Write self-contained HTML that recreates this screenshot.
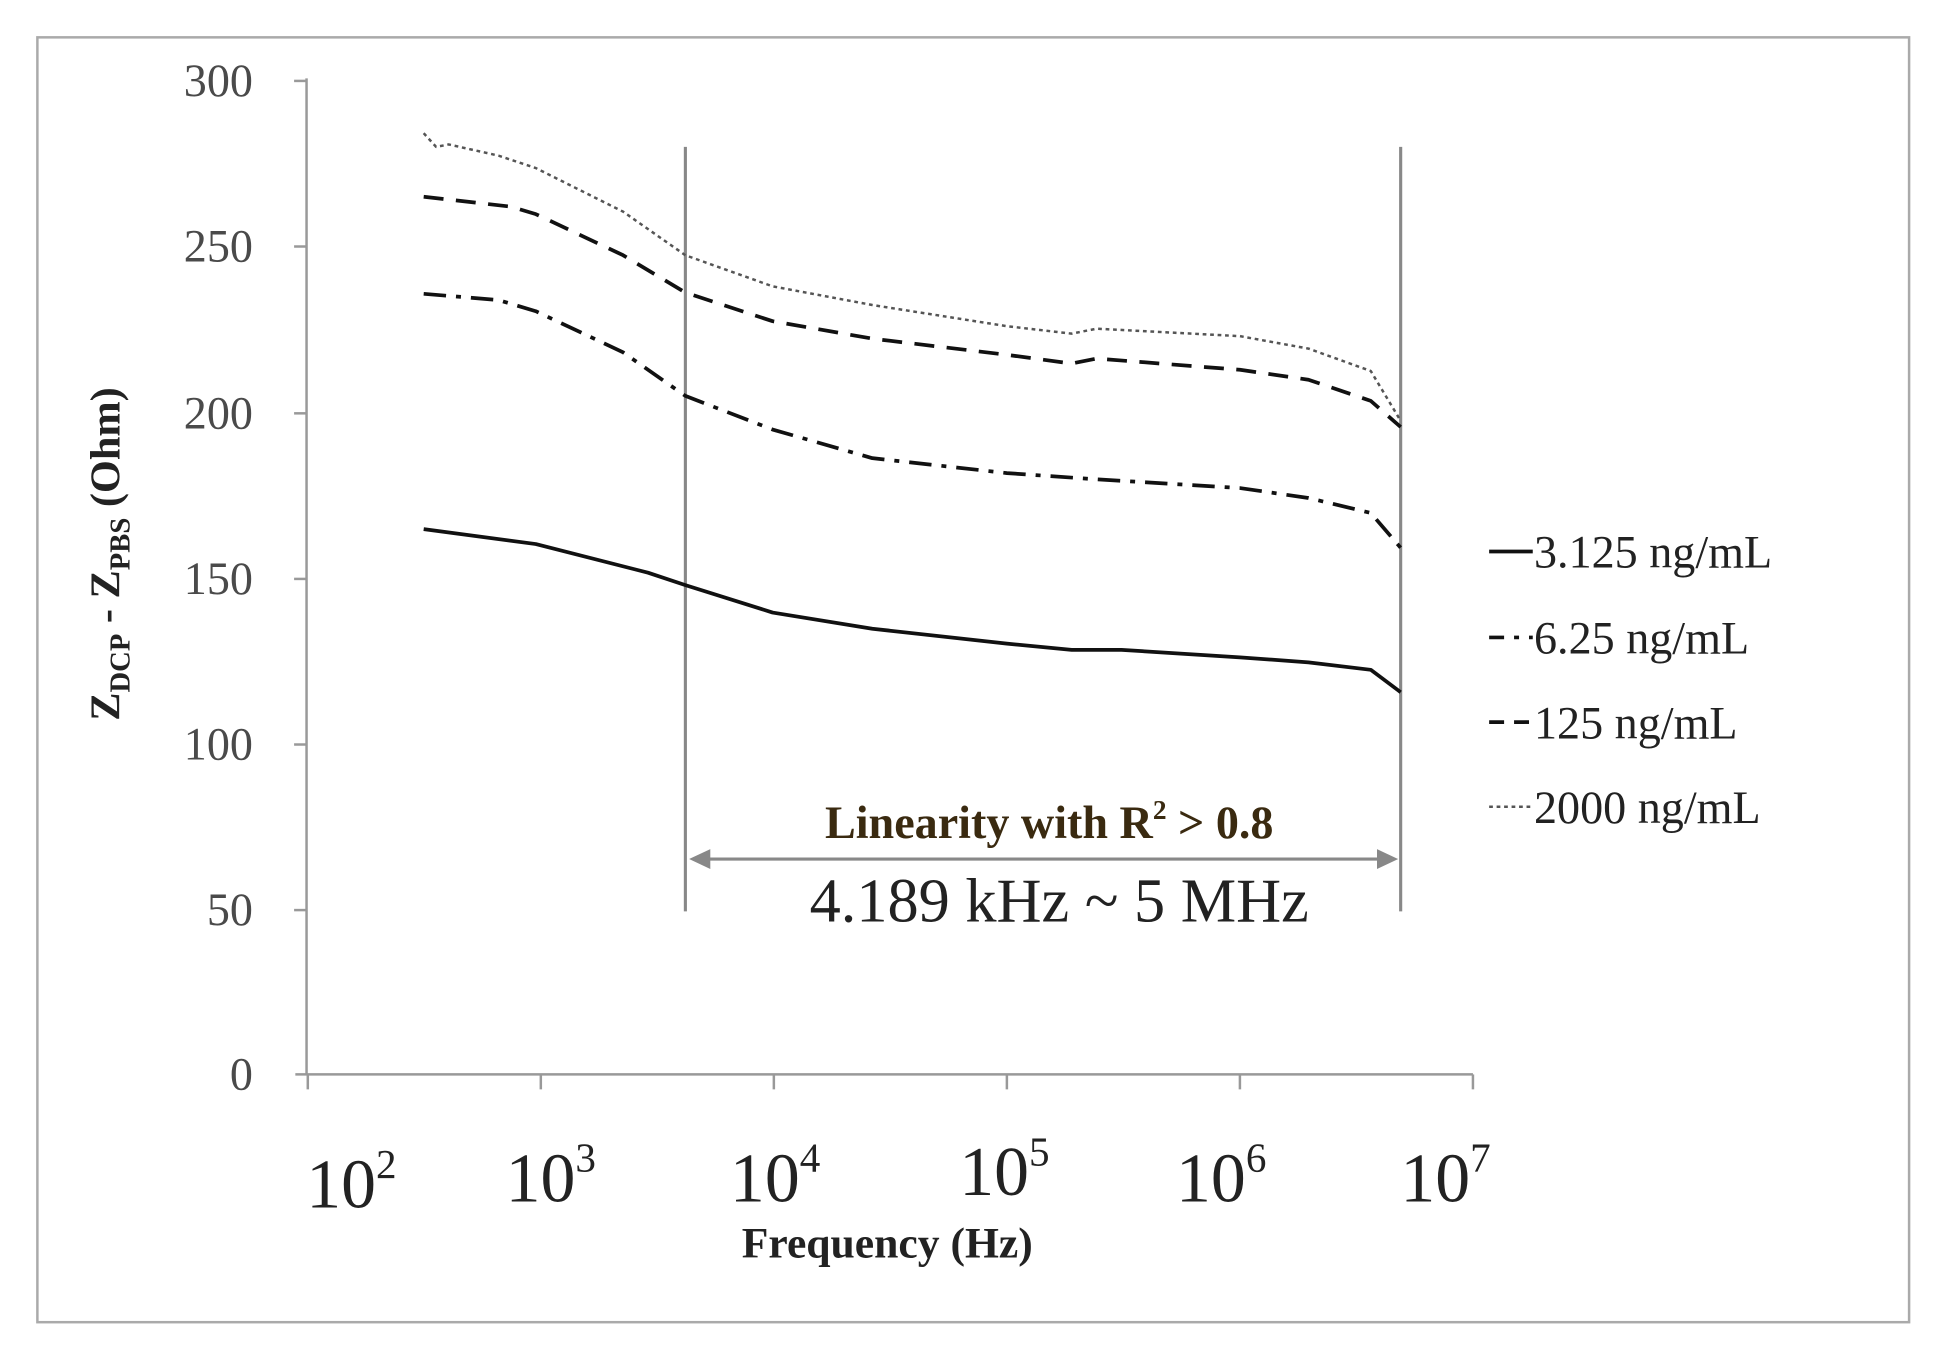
<!DOCTYPE html>
<html><head><meta charset="utf-8"><style>
html,body{margin:0;padding:0;background:#fff;}
svg{display:block;}
text{font-family:"Liberation Serif",serif;}
</style></head><body>
<svg width="1939" height="1367" viewBox="0 0 1556 1098" preserveAspectRatio="none" xmlns="http://www.w3.org/2000/svg">
<rect x="0" y="0" width="1556" height="1098" fill="#fff"/>
<rect x="30" y="30" width="1502" height="1032" fill="none" stroke="#aaa" stroke-width="2"/>
<g stroke="#999" stroke-width="2" fill="none">
<line x1="246" y1="63" x2="246" y2="863"/>
<line x1="237" y1="863" x2="1182" y2="863"/>
<line x1="236" y1="65" x2="246" y2="65"/>
<line x1="236" y1="198" x2="246" y2="198"/>
<line x1="236" y1="332" x2="246" y2="332"/>
<line x1="236" y1="465" x2="246" y2="465"/>
<line x1="236" y1="598" x2="246" y2="598"/>
<line x1="236" y1="731" x2="246" y2="731"/>
<line x1="247" y1="863" x2="247" y2="875"/>
<line x1="434" y1="863" x2="434" y2="875"/>
<line x1="621" y1="863" x2="621" y2="875"/>
<line x1="808" y1="863" x2="808" y2="875"/>
<line x1="995" y1="863" x2="995" y2="875"/>
<line x1="1182" y1="863" x2="1182" y2="875"/>
</g>
<g font-size="37" fill="#4a4a4a" text-anchor="end">
<text x="203" y="77">300</text>
<text x="203" y="210">250</text>
<text x="203" y="344">200</text>
<text x="203" y="477">150</text>
<text x="203" y="610">100</text>
<text x="203" y="743">50</text>
<text x="203" y="875">0</text>
</g>
<g font-size="56" fill="#222" text-anchor="middle">
<text x="282" y="970">10<tspan font-size="33" dy="-24">2</tspan></text>
<text x="442" y="965">10<tspan font-size="33" dy="-24">3</tspan></text>
<text x="622" y="965">10<tspan font-size="33" dy="-24">4</tspan></text>
<text x="806" y="960">10<tspan font-size="33" dy="-24">5</tspan></text>
<text x="980" y="965">10<tspan font-size="33" dy="-24">6</tspan></text>
<text x="1160" y="965">10<tspan font-size="33" dy="-24">7</tspan></text>
</g>
<text x="712" y="1010" font-size="35" font-weight="bold" fill="#222" text-anchor="middle">Frequency (Hz)</text>
<text transform="translate(96,445) rotate(-90)" font-size="34" font-weight="bold" fill="#222" text-anchor="middle">Z<tspan font-size="23" dy="8">DCP</tspan><tspan dy="-8"> - Z</tspan><tspan font-size="23" dy="8">PBS</tspan><tspan dy="-8"> (Ohm)</tspan></text>
<g stroke="#888" stroke-width="2.5">
<line x1="550" y1="118" x2="550" y2="732"/>
<line x1="1124" y1="118" x2="1124" y2="732"/>
<line x1="562" y1="690" x2="1112" y2="690"/>
</g>
<polygon points="553,690 570,682 570,698" fill="#888"/>
<polygon points="1122,690 1105,682 1105,698" fill="#888"/>
<text x="842" y="673" font-size="37" font-weight="bold" fill="#3a2a10" text-anchor="middle">Linearity with R<tspan font-size="22" dy="-15">2</tspan><tspan dy="15"> &gt; 0.8</tspan></text>
<text x="850" y="740" font-size="50" fill="#222" text-anchor="middle">4.189 kHz ~ 5 MHz</text>
<g fill="none" stroke="#111" stroke-width="3" stroke-linejoin="round">
<polyline points="340,425 430,437 520,460 550,470 620,492 700,505 808,517 860,522 900,522 995,528 1050,532 1100,538 1124,556"/>
<polyline stroke-dasharray="18,8,4,8" points="340,236 400,241 430,250 500,283 550,318 620,345 700,368 808,380 880,385 995,392 1050,400 1100,412 1124,440"/>
<polyline stroke-dasharray="16,10" points="340,158 410,166 430,172 500,205 550,235 620,258 700,272 808,285 860,292 880,288 995,297 1050,305 1100,322 1124,343"/>
<polyline stroke-width="2" stroke="#555" stroke-dasharray="3,3" points="340,107 350,118 360,116 400,125 430,135 500,170 550,205 620,230 700,245 808,262 860,268 880,264 995,270 1050,280 1100,298 1124,338"/>
</g>
<g stroke="#111" stroke-width="3">
<line x1="1195" y1="443" x2="1230" y2="443"/>
<line x1="1195" y1="512" x2="1230" y2="512" stroke-dasharray="12,8,4,8"/>
<line x1="1195" y1="580" x2="1230" y2="580" stroke-dasharray="12,8"/>
<line x1="1195" y1="648" x2="1230" y2="648" stroke-width="2" stroke="#555" stroke-dasharray="3,3"/>
</g>
<g font-size="37" fill="#222">
<text x="1231" y="456">3.125 ng/mL</text>
<text x="1231" y="525">6.25 ng/mL</text>
<text x="1231" y="593">125 ng/mL</text>
<text x="1231" y="661">2000 ng/mL</text>
</g>
</svg>
</body></html>
